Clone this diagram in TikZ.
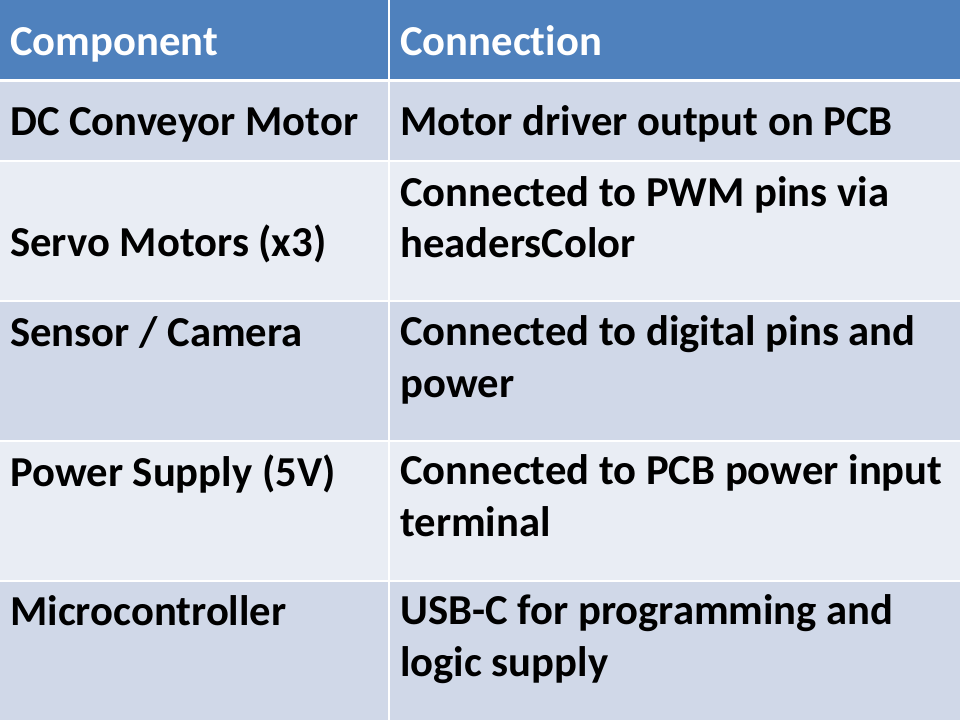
\documentclass[tikz,border=0pt]{standalone}
\usepackage{fontspec}
\setmainfont{Carlito}[RawFeature={-liga,-dlig,-clig}]
\definecolor{headblue}{HTML}{4F81BD}
\definecolor{rowdark}{HTML}{D0D8E8}
\definecolor{rowlight}{HTML}{E9EDF4}
\tikzset{
  celltext/.style = {anchor = base west, inner sep = 0pt, align = left,
    font = \fontsize{32}{38.4}\selectfont\bfseries},
  headtext/.style = {celltext, text = white}
}
\begin{document}
\begin{tikzpicture} [x = 0.75pt, y = -0.75pt]
    \useasboundingbox (0,0) rectangle (960,720);
    % rows
    \fill [headblue] (0,0) rectangle (960,80);
    \fill [rowdark] (0,80) rectangle (960,161);
    \fill [rowlight] (0,161) rectangle (960,301);
    \fill [rowdark] (0,301) rectangle (960,441);
    \fill [rowlight] (0,441) rectangle (960,581);
    \fill [rowdark] (0,581) rectangle (960,720);
    % grid lines
    \draw [white, line width = 2.2pt] (0,80.5)--(960,80.5);
    \draw [white, line width = 1pt] (0,161)--(960,161);
    \draw [white, line width = 1pt] (0,301)--(960,301);
    \draw [white, line width = 1pt] (0,441)--(960,441);
    \draw [white, line width = 1pt] (0,581)--(960,581);
    \draw [white, line width = 1pt] (389,0)--(389,720);
    % header
    \node [headtext] (comphead) at (10,56) {Component};
    \node [headtext] (connhead) at (400,56) {Connection};
    % cells (base of a two-line cell is its last line)
    \node [celltext] (motor) at (10,136) {DC Conveyor Motor};
    \node [celltext] (motorconn) at (400,136) {Motor driver output on PCB};
    \node [celltext] (servo) at (10,257) {Servo Motors (x3)};
    \node [celltext] (servoconn) at (400,258) {Connected to PWM pins via\\headersColor};
    \node [celltext] (sensor) at (10,346) {Sensor / Camera};
    \node [celltext] (sensorconn) at (400,397) {Connected to digital pins and\\power};
    \node [celltext] (supply) at (10,486) {Power Supply (5V)};
    \node [celltext] (supplyconn) at (400,536) {Connected to PCB power input\\terminal};
    \node [celltext] (mcu) at (10,625) {Microcontroller};
    \node [celltext] (mcuconn) at (400,676) {USB-C for programming and\\logic supply};
  \end{tikzpicture}
\end{document}
